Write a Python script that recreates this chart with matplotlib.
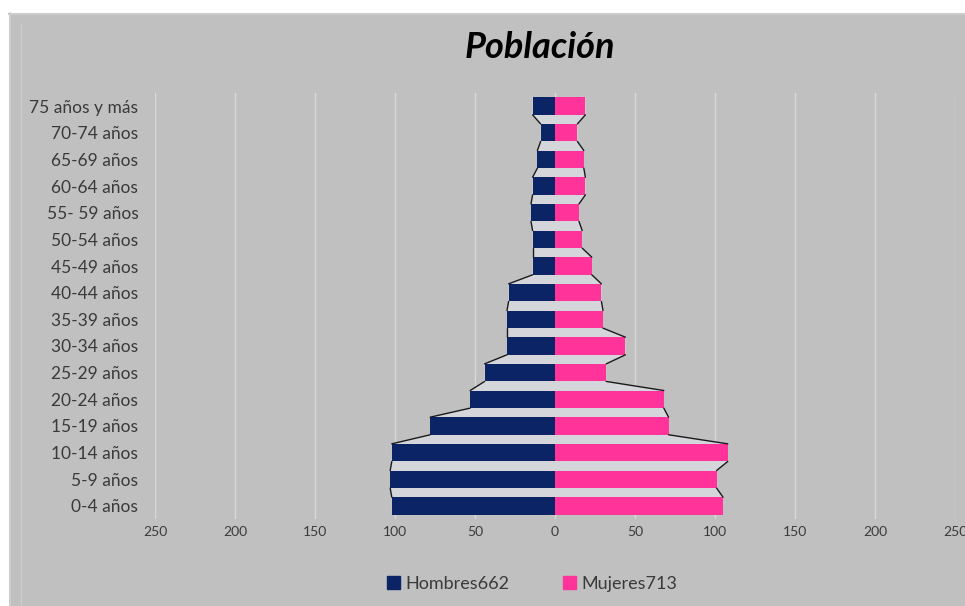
import matplotlib
matplotlib.use("Agg")
import matplotlib.pyplot as plt
from matplotlib.patches import Rectangle, Patch
from matplotlib.ticker import FuncFormatter
import numpy as np

categories = ["0-4 años", "5-9 años", "10-14 años", "15-19 años", "20-24 años",
              "25-29 años", "30-34 años", "35-39 años", "40-44 años", "45-49 años",
              "50-54 años", "55- 59 años", "60-64 años", "65-69 años", "70-74 años",
              "75 años y más"]
hombres = [102, 103, 102, 78, 53, 44, 30, 30, 29, 14, 14, 15, 14, 11, 9, 14]
mujeres = [105, 101, 108, 71, 68, 32, 44, 30, 29, 23, 17, 15, 19, 18, 14, 19]
series_names = ["Hombres662", "Mujeres713"]
xticks = [-250, -200, -150, -100, -50, 0, 50, 100, 150, 200, 250]
title = "Población"

plt.rcParams['font.family'] = ['Lato', 'DejaVu Sans']

W, H = 965, 606
fig = plt.figure(figsize=(W / 100, H / 100), dpi=100, facecolor="white")
bg = "#c0c0c0"

# background panel as an axes underneath
bax = fig.add_axes([0, 0, 1, 1], zorder=-5)
bax.set_xlim(0, W)
bax.set_ylim(H, 0)
bax.axis("off")
bax.add_patch(Rectangle((9, 13), W, H, facecolor=bg, edgecolor="none"))
bax.plot([10, 10], [13, H], color="#d0d0d0", lw=1.2)
bax.plot([21, 21], [24, H], color="#cacaca", lw=1.0)
bax.plot([9, W], [14, 14], color="#cccccc", lw=1.5)

left_px, right_px = 155, 955
top_px, bot_px = 92.7, 519.3
ax = fig.add_axes([left_px / W, 1 - bot_px / H, (right_px - left_px) / W, (bot_px - top_px) / H],
                  zorder=2)
ax.set_facecolor("none")

y = np.arange(len(categories))
h = 0.66
navy = "#0b2466"
pink = "#ff3399"
gapcol = "#d5d6dc"

neg = -np.array(hombres, dtype=float)
pos = np.array(mujeres, dtype=float)

for vals in (neg, pos):
    xs, ys = [], []
    for i, v in enumerate(vals):
        xs += [v, v]
        ys += [i - h / 2, i + h / 2]
    px = [0] + xs + [0]
    py = [ys[0]] + ys + [ys[-1]]
    ax.fill(px, py, color=gapcol, zorder=1, lw=0)
    for i in range(len(vals) - 1):
        ax.plot([vals[i], vals[i + 1]], [i + h / 2, i + 1 - h / 2], color="#1a1a1a",
                lw=1.0, zorder=3, solid_capstyle="round")

ax.barh(y, neg, height=h, color=navy, zorder=2, label=series_names[0])
ax.barh(y, pos, height=h, color=pink, zorder=2, label=series_names[1])

ax.set_xlim(-250, 250)
ax.set_ylim(-0.5, len(categories) - 0.5)
ax.set_xticks(xticks)
ax.xaxis.set_major_formatter(FuncFormatter(lambda v, p: f"{abs(int(v))}"))
ax.set_yticks(y)
ax.set_yticklabels(categories)
ax.grid(axis="x", color="#d9d9d9", lw=1.0, zorder=0)
ax.set_axisbelow(True)
for s in ax.spines.values():
    s.set_visible(False)
ax.tick_params(axis="both", length=0, colors="#3a3a3a")
ax.tick_params(axis="y", pad=12, labelsize=12.5)
ax.tick_params(axis="x", pad=5, labelsize=10)

fig.text(540 / W, 1 - 47 / H, title, ha="center", va="center", fontsize=26,
         fontweight="bold", fontstyle="italic", color="black")

handles = [Patch(color=navy), Patch(color=pink)]
fig.legend(handles, series_names, loc="center", bbox_to_anchor=(532 / W, 1 - 584 / H),
           ncol=2, frameon=False, fontsize=13, handlelength=0.7, handleheight=0.7,
           handletextpad=0.3, columnspacing=3.0, labelcolor="#3a3a3a")

fig.savefig("out.png", dpi=100, facecolor="white")
